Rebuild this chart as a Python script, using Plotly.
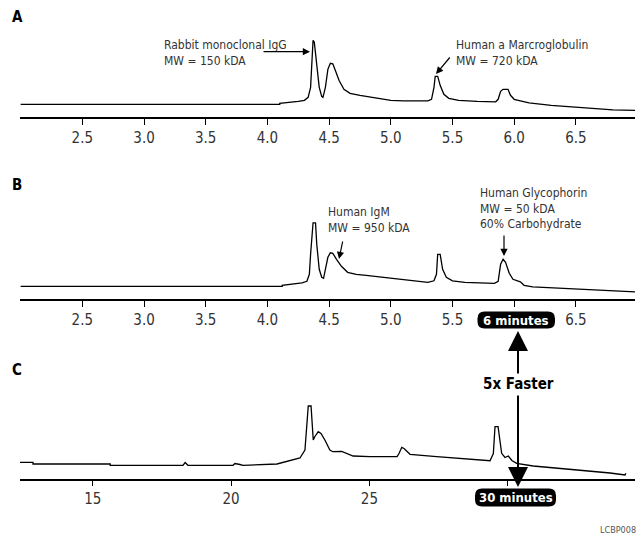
import plotly.graph_objects as go

# ---------------- data ----------------
# Panel A: 6-minute run, sample 1
time_a = [2.00, 4.10, 4.10, 4.15, 4.25, 4.30, 4.33, 4.35, 4.36, 4.37, 4.38, 4.40, 4.42, 4.44, 4.45,
          4.47, 4.49, 4.51, 4.53, 4.55, 4.58, 4.62, 4.67, 4.75, 4.90, 5.00, 5.10, 5.30, 5.33, 5.35,
          5.36, 5.38, 5.40, 5.43, 5.47, 5.55, 5.70, 5.85, 5.87, 5.89, 5.91, 5.95, 5.97, 6.00, 6.05,
          6.12, 6.30, 6.50, 6.65, 6.80, 6.98]
signal_a = [13.0, 13.0, 14.0, 14.5, 16.0, 17.0, 20.0, 30.0, 62.0, 77.0, 75.0, 50.0, 30.0, 21.0, 20.0,
            30.0, 48.0, 54.0, 53.5, 47.0, 37.0, 28.0, 24.0, 22.0, 19.0, 17.0, 16.5, 16.5, 18.0, 30.0,
            41.0, 41.0, 32.0, 23.0, 19.0, 17.0, 16.0, 15.5, 18.0, 26.0, 28.0, 28.0, 22.0, 18.0, 16.5,
            14.5, 12.0, 10.0, 9.0, 7.5, 7.0]

# Panel B: 6-minute run, sample 2
time_b = [2.00, 4.12, 4.12, 4.20, 4.28, 4.32, 4.34, 4.35, 4.36, 4.37, 4.39, 4.40, 4.42, 4.44, 4.455,
          4.47, 4.49, 4.51, 4.53, 4.56, 4.60, 4.65, 4.72, 4.80, 5.00, 5.20, 5.30, 5.35, 5.37, 5.38,
          5.40, 5.42, 5.45, 5.50, 5.60, 5.84, 5.87, 5.89, 5.91, 5.93, 5.96, 5.99, 6.03, 6.05, 6.08,
          6.15, 6.40, 6.70, 6.98]
signal_b = [13.0, 13.0, 14.0, 15.0, 16.5, 18.0, 25.0, 45.0, 66.0, 76.5, 76.5, 55.0, 30.0, 22.0, 21.0,
            30.0, 42.0, 46.5, 46.0, 40.0, 33.0, 27.0, 25.0, 24.0, 21.0, 18.0, 17.0, 18.5, 25.0, 45.0,
            45.0, 30.0, 22.0, 18.5, 17.0, 16.0, 18.0, 35.0, 40.0, 37.0, 26.0, 20.0, 18.5, 17.5, 14.0,
            12.5, 11.0, 9.0, 7.5]

# Panel C: 30-minute run
time_c = [12.37, 12.84, 12.84, 15.63, 15.63, 18.26, 18.34, 18.44, 20.07, 20.14, 20.32, 20.43, 21.66,
          22.02, 22.49, 22.67, 22.75, 22.79, 22.89, 22.93, 22.97, 23.03, 23.15, 23.25, 23.40, 23.57,
          23.68, 24.00, 24.41, 25.02, 26.00, 26.07, 26.17, 26.25, 26.47, 27.43, 28.64, 29.36, 29.48,
          29.54, 29.65, 29.72, 29.78, 29.90, 30.02, 30.15, 30.32, 30.92, 32.61, 33.70, 34.24, 34.27]
signal_c = [16.2, 16.2, 14.5, 14.5, 13.2, 13.2, 16.0, 13.2, 13.2, 15.0, 14.0, 13.2, 14.5,
            16.8, 20.5, 28.5, 55.0, 72.5, 72.5, 55.0, 38.5, 42.0, 46.8, 45.0, 38.0, 28.5,
            26.8, 27.0, 22.5, 21.8, 21.8, 25.0, 31.2, 30.0, 24.2, 21.8, 19.5, 17.8, 25.0,
            51.8, 51.8, 35.0, 25.2, 21.0, 22.5, 18.0, 15.2, 12.5, 8.5, 5.5, 3.5, 5.2]

# tick labels (the 6.0 and 30 labels are hidden under the time boxes in the original)
ticks_a = [2.5, 3.0, 3.5, 4.0, 4.5, 5.0, 5.5, 6.0, 6.5]
ticktext_a = ["2.5", "3.0", "3.5", "4.0", "4.5", "5.0", "5.5", "6.0", "6.5"]
ticks_b = [2.5, 3.0, 3.5, 4.0, 4.5, 5.0, 5.5, 6.0, 6.5]
ticktext_b = ["2.5", "3.0", "3.5", "4.0", "4.5", "5.0", "5.5", "", "6.5"]
ticks_c = [15, 20, 25, 30]
ticktext_c = ["15", "20", "25", ""]

# ---------------- layout helpers ----------------
W, H = 641, 540
def px(x):
    return x / W
def py(y):
    return 1 - y / H

FONT = "DejaVu Sans Condensed, Liberation Sans Narrow, Roboto, sans-serif"
TXT = "#333333"

fig = go.Figure()
fig.add_trace(go.Scatter(x=time_a, y=signal_a, mode="lines", line=dict(color="black", width=1.3),
                         xaxis="x", yaxis="y", hoverinfo="skip", showlegend=False))
fig.add_trace(go.Scatter(x=time_b, y=signal_b, mode="lines", line=dict(color="black", width=1.3),
                         xaxis="x2", yaxis="y2", hoverinfo="skip", showlegend=False))
fig.add_trace(go.Scatter(x=time_c, y=signal_c, mode="lines", line=dict(color="black", width=1.3),
                         xaxis="x3", yaxis="y3", hoverinfo="skip", showlegend=False))

def xax(rng, tv, tt, anchor):
    return dict(domain=[px(20), px(635)], range=rng, anchor=anchor,
                showline=True, linecolor="black", linewidth=1.5,
                ticks="outside", ticklen=6, tickwidth=1.2, tickcolor="black",
                tickvals=tv, ticktext=tt, showgrid=False, zeroline=False,
                tickfont=dict(family=FONT, size=15, color=TXT), fixedrange=True)

def yax(axis_py, anchor):
    return dict(domain=[py(axis_py), py(axis_py - 100)], range=[0, 100], anchor=anchor,
                visible=False, fixedrange=True)

fig.update_layout(
    width=W, height=H, margin=dict(l=0, r=0, t=0, b=0),
    paper_bgcolor="white", plot_bgcolor="white",
    xaxis=xax([1.995, 6.979], ticks_a, ticktext_a, "y"),
    yaxis=yax(117.3, "x"),
    xaxis2=xax([1.995, 6.979], ticks_b, ticktext_b, "y2"),
    yaxis2=yax(299.3, "x2"),
    xaxis3=xax([12.37, 34.6], ticks_c, ticktext_c, "y3"),
    yaxis3=yax(478.5, "x3"),
    font=dict(family=FONT, color=TXT),
)

ann = []
# panel letters
for letter, y in [("A", 17), ("B", 185), ("C", 370)]:
    ann.append(dict(text="<b>%s</b>" % letter, x=px(10), y=py(y), xref="paper", yref="paper",
                    xanchor="left", yanchor="middle", showarrow=False,
                    font=dict(family=FONT, size=15, color="black")))

def label(text, x, ytop):
    ann.append(dict(text=text, x=px(x), y=py(ytop), xref="paper", yref="paper",
                    xanchor="left", yanchor="top", align="left", showarrow=False,
                    font=dict(family=FONT, size=12, color=TXT)))

label("Rabbit monoclonal IgG<br>MW = 150 kDA", 162, 36)
label("Human a Marcroglobulin<br>MW = 720 kDA", 454, 36)
label("Human IgM<br>MW = 950 kDA", 326, 203)
label("Human Glycophorin<br>MW = 50 kDA<br>60% Carbohydrate", 478, 184)

def arrow(x_tip, y_tip, x_tail, y_tail, width=1.2, size=1.2):
    ann.append(dict(text="", x=px(x_tip), y=py(y_tip), xref="paper", yref="paper",
                    ax=x_tail - x_tip, ay=y_tail - y_tip, axref="pixel", ayref="pixel",
                    showarrow=True, arrowhead=2, arrowsize=size, arrowwidth=width,
                    arrowcolor="black"))

arrow(310, 51.7, 262, 51.7)
arrow(436, 74, 451, 56)
arrow(339, 259, 343, 240)
arrow(504, 256, 504, 234)

# rounded time boxes
shapes = []
def pill(x0, y0, x1, y1, r=7):
    p = ("M {a},{b} L {c},{b} Q {e},{b} {e},{f} L {e},{g} Q {e},{h} {c},{h} "
         "L {a},{h} Q {i},{h} {i},{g} L {i},{f} Q {i},{b} {a},{b} Z").format(
        a=px(x0 + r), b=py(y0), c=px(x1 - r), e=px(x1), f=py(y0 + r), g=py(y1 - r),
        h=py(y1), i=px(x0))
    shapes.append(dict(type="path", path=p, xref="paper", yref="paper",
                       fillcolor="black", line=dict(color="black", width=0)))

pill(477.5, 311.5, 555, 328.5)
pill(475, 488.5, 556, 506.5)
for text, xc, yc in [("<b>6 minutes</b>", 516, 320), ("<b>30 minutes</b>", 515.5, 497.5)]:
    ann.append(dict(text=text, x=px(xc), y=py(yc), xref="paper", yref="paper",
                    xanchor="center", yanchor="middle", showarrow=False,
                    font=dict(family=FONT, size=13, color="white")))

# 5x faster arrows
arrow(518, 331, 518, 375, width=2, size=2.0)
arrow(518, 487, 518, 394, width=2, size=2.0)
ann.append(dict(text="<b>5x Faster</b>", x=px(518), y=py(384), xref="paper", yref="paper",
                xanchor="center", yanchor="middle", showarrow=False,
                font=dict(family=FONT, size=15, color="black")))

ann.append(dict(text="LCBP008", x=px(638), y=py(530), xref="paper", yref="paper",
                xanchor="right", yanchor="middle", showarrow=False,
                font=dict(family=FONT, size=9, color="#555555")))

fig.update_layout(annotations=ann, shapes=shapes)
fig.write_html("out.html")
